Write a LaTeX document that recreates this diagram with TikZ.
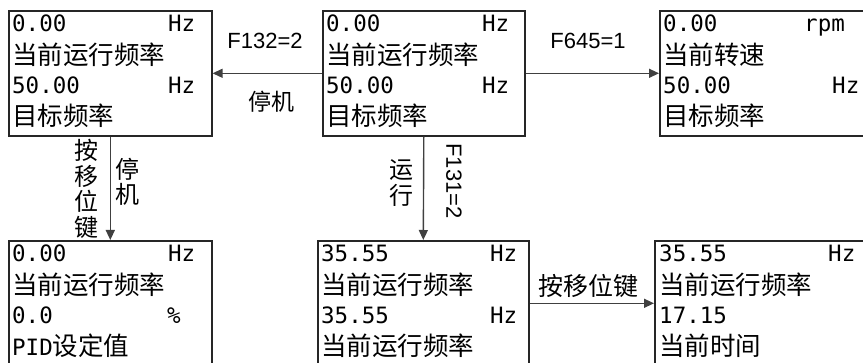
\documentclass[tikz,border=0pt]{standalone}
\usepackage{fontspec}
\setmainfont{DejaVu Sans Mono}
\newfontfamily\cjk{Noto Sans CJK SC}
\newfontfamily\lab{Liberation Sans}
\usetikzlibrary{arrows.meta}
\begin{document}
\begin{tikzpicture}[x=1pt,y=-1pt,
  panel/.style={draw=black!85,line width=1.6pt,minimum height=125pt,anchor=north west,inner sep=0pt},
  ln/.style={anchor=base west,inner sep=0pt,font=\fontsize{22.5}{22.5}\selectfont},
  cj/.style={anchor=base west,inner sep=0pt,font=\fontsize{25.5}{25.5}\selectfont\cjk},
  conn/.style={draw=black!75,line width=1.4pt,-{Triangle[length=10pt,width=9pt]}},
  lbl/.style={inner sep=0pt,font=\fontsize{22}{22}\selectfont\lab},
  clbl/.style={inner sep=0pt,font=\fontsize{24}{25.5}\selectfont\cjk,align=center},
]
\useasboundingbox (0,0) rectangle (863,363);
\clip (0,0) rectangle (863,363);
\fill[white] (0,0) rectangle (863,363);

% panels
\node[panel,minimum width=203pt] (tl) at (8,10) {};
\node[panel,minimum width=202pt] (tm) at (322,10) {};
\node[panel,minimum width=210pt] (tr) at (659,10) {};
\node[panel,minimum width=203pt] (bl) at (8,240) {};
\node[panel,minimum width=211pt] (bm) at (317,240) {};
\node[panel,minimum width=215pt] (br) at (654,240) {};

% top-left
\node[ln] (tla) at (12,32) {0.00};
\node[ln] (tlau) at (168,32) {Hz};
\node[cj] (tlb) at (12,65) {当前运行频率};
\node[ln] (tlc) at (12,94) {50.00};
\node[ln] (tlcu) at (168,94) {Hz};
\node[cj] (tld) at (12,126) {目标频率};

% top-middle
\node[ln] (tma) at (326,32) {0.00};
\node[ln] (tmau) at (482,32) {Hz};
\node[cj] (tmb) at (326,65) {当前运行频率};
\node[ln] (tmc) at (326,94) {50.00};
\node[ln] (tmcu) at (482,94) {Hz};
\node[cj] (tmd) at (326,126) {目标频率};

% top-right
\node[ln] (tra) at (663,32) {0.00};
\node[ln] (trau) at (804,32) {rpm};
\node[cj] (trb) at (663,65) {当前转速};
\node[ln] (trc) at (663,94) {50.00};
\node[ln] (trcu) at (832,94) {Hz};
\node[cj] (trd) at (663,126) {目标频率};

% bottom-left
\node[ln] (bla) at (12,262) {0.00};
\node[ln] (blau) at (168,262) {Hz};
\node[cj] (blb) at (12,295) {当前运行频率};
\node[ln] (blc) at (12,324) {0.0};
\node[ln] (blcu) at (167,324) {\%};
\node[ln] (bld) at (12,356) {PID{\cjk\fontsize{25.5}{25.5}\selectfont 设定值}};

% bottom-middle
\node[ln] (bma) at (321,262) {35.55};
\node[ln] (bmau) at (490,262) {Hz};
\node[cj] (bmb) at (321,295) {当前运行频率};
\node[ln] (bmc) at (321,324) {35.55};
\node[ln] (bmcu) at (490,324) {Hz};
\node[cj] (bmd) at (321,356) {当前运行频率};

% bottom-right
\node[ln] (bra) at (659,262) {35.55};
\node[ln] (brau) at (828,262) {Hz};
\node[cj] (brb) at (659,295) {当前运行频率};
\node[ln] (brc) at (659,324) {17.15};
\node[cj] (brd) at (659,356) {当前时间};

% connectors
\draw[conn] (tm.west) -- (tl.east);
\draw[conn] (tm.east) -- (tr.west);
\draw[conn] (tl.south) -- (bl.north);
\draw[conn] (tm.south) -- (bm.north);
\draw[conn] (bm.east) -- (br.west);

% labels
\node[lbl] (l1) at (265,41) {F132=2};
\node[clbl,font=\fontsize{23}{23}\selectfont\cjk] (l2) at (271,102) {停机};
\node[lbl] (l3) at (588,41) {F645=1};
\node[clbl] (l4) at (86,189) {按\\移\\位\\键};
\node[clbl] (l5) at (127,182) {停\\机};
\node[clbl] (l6) at (401,183) {运\\行};
\node[lbl,rotate=-90] (l7) at (454,181) {F131=2};
\node[clbl,font=\fontsize{25}{25}\selectfont\cjk] (l8) at (588,286) {按移位键};
\end{tikzpicture}
\end{document}
